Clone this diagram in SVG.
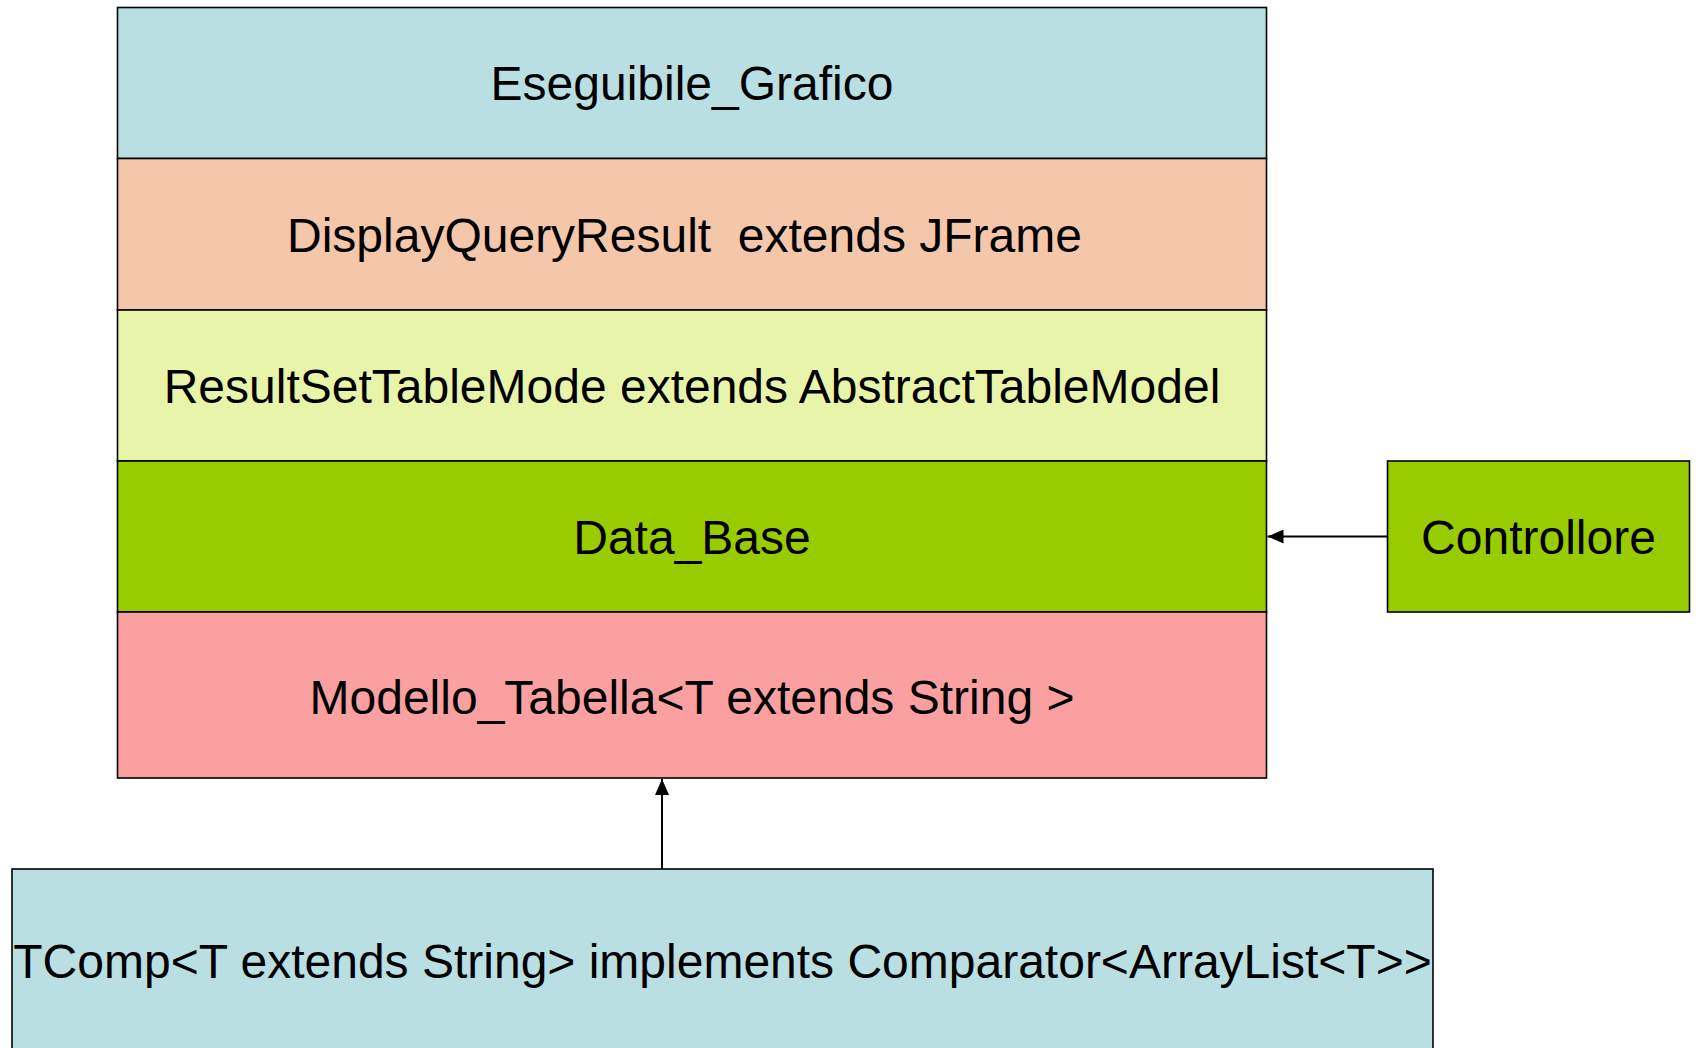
<svg xmlns="http://www.w3.org/2000/svg" width="1699" height="1048" viewBox="0 0 1699 1048">
  <style>
    .box { stroke: #000; stroke-width: 1.6; }
    .lbl { font-family: "Liberation Sans", Arial, sans-serif; font-size: 48px; fill: #000; text-anchor: middle; white-space: pre; }
    .edge { stroke: #000; stroke-width: 2; fill: none; }
  </style>
  <defs>
    <marker id="arrow" viewBox="0 0 16 14" refX="16" refY="7" markerWidth="16" markerHeight="14" markerUnits="userSpaceOnUse" orient="auto">
      <path d="M0,0 L16,7 L0,14 Z" fill="#000"/>
    </marker>
  </defs>

  <rect width="1699" height="1048" fill="#fff"/>

  <g id="eseguibile-grafico">
    <rect class="box" x="117.5" y="7.5" width="1149" height="151" fill="#BADFE2"/>
    <text class="lbl" x="692" y="100">Eseguibile_Grafico</text>
  </g>

  <g id="display-query-result">
    <rect class="box" x="117.5" y="158.5" width="1149" height="151.5" fill="#F4C6AA"/>
    <text class="lbl" x="684.5" y="252">DisplayQueryResult  extends JFrame</text>
  </g>

  <g id="result-set-table-mode">
    <rect class="box" x="117.5" y="310" width="1149" height="151" fill="#E7F4A9"/>
    <text class="lbl" x="692" y="403">ResultSetTableMode extends AbstractTableModel</text>
  </g>

  <g id="data-base">
    <rect class="box" x="117.5" y="461" width="1149" height="151" fill="#99CC00"/>
    <text class="lbl" x="692" y="554">Data_Base</text>
  </g>

  <g id="modello-tabella">
    <rect class="box" x="117.5" y="612" width="1149" height="166" fill="#FAA0A0"/>
    <text class="lbl" x="692" y="714">Modello_Tabella&lt;T extends String &gt;</text>
  </g>

  <g id="controllore">
    <rect class="box" x="1387.5" y="461" width="302" height="151" fill="#99CC00"/>
    <text class="lbl" x="1538.5" y="554">Controllore</text>
  </g>

  <g id="tcomp">
    <rect class="box" x="12" y="869" width="1421" height="182" fill="#BADFE2"/>
    <text class="lbl" x="722.5" y="978">TComp&lt;T extends String&gt; implements Comparator&lt;ArrayList&lt;T&gt;&gt;</text>
  </g>

  <g id="connectors">
    <line class="edge" x1="1387.5" y1="536.5" x2="1267.5" y2="536.5" marker-end="url(#arrow)"/>
    <line class="edge" x1="662" y1="869" x2="662" y2="779" marker-end="url(#arrow)"/>
  </g>
</svg>
